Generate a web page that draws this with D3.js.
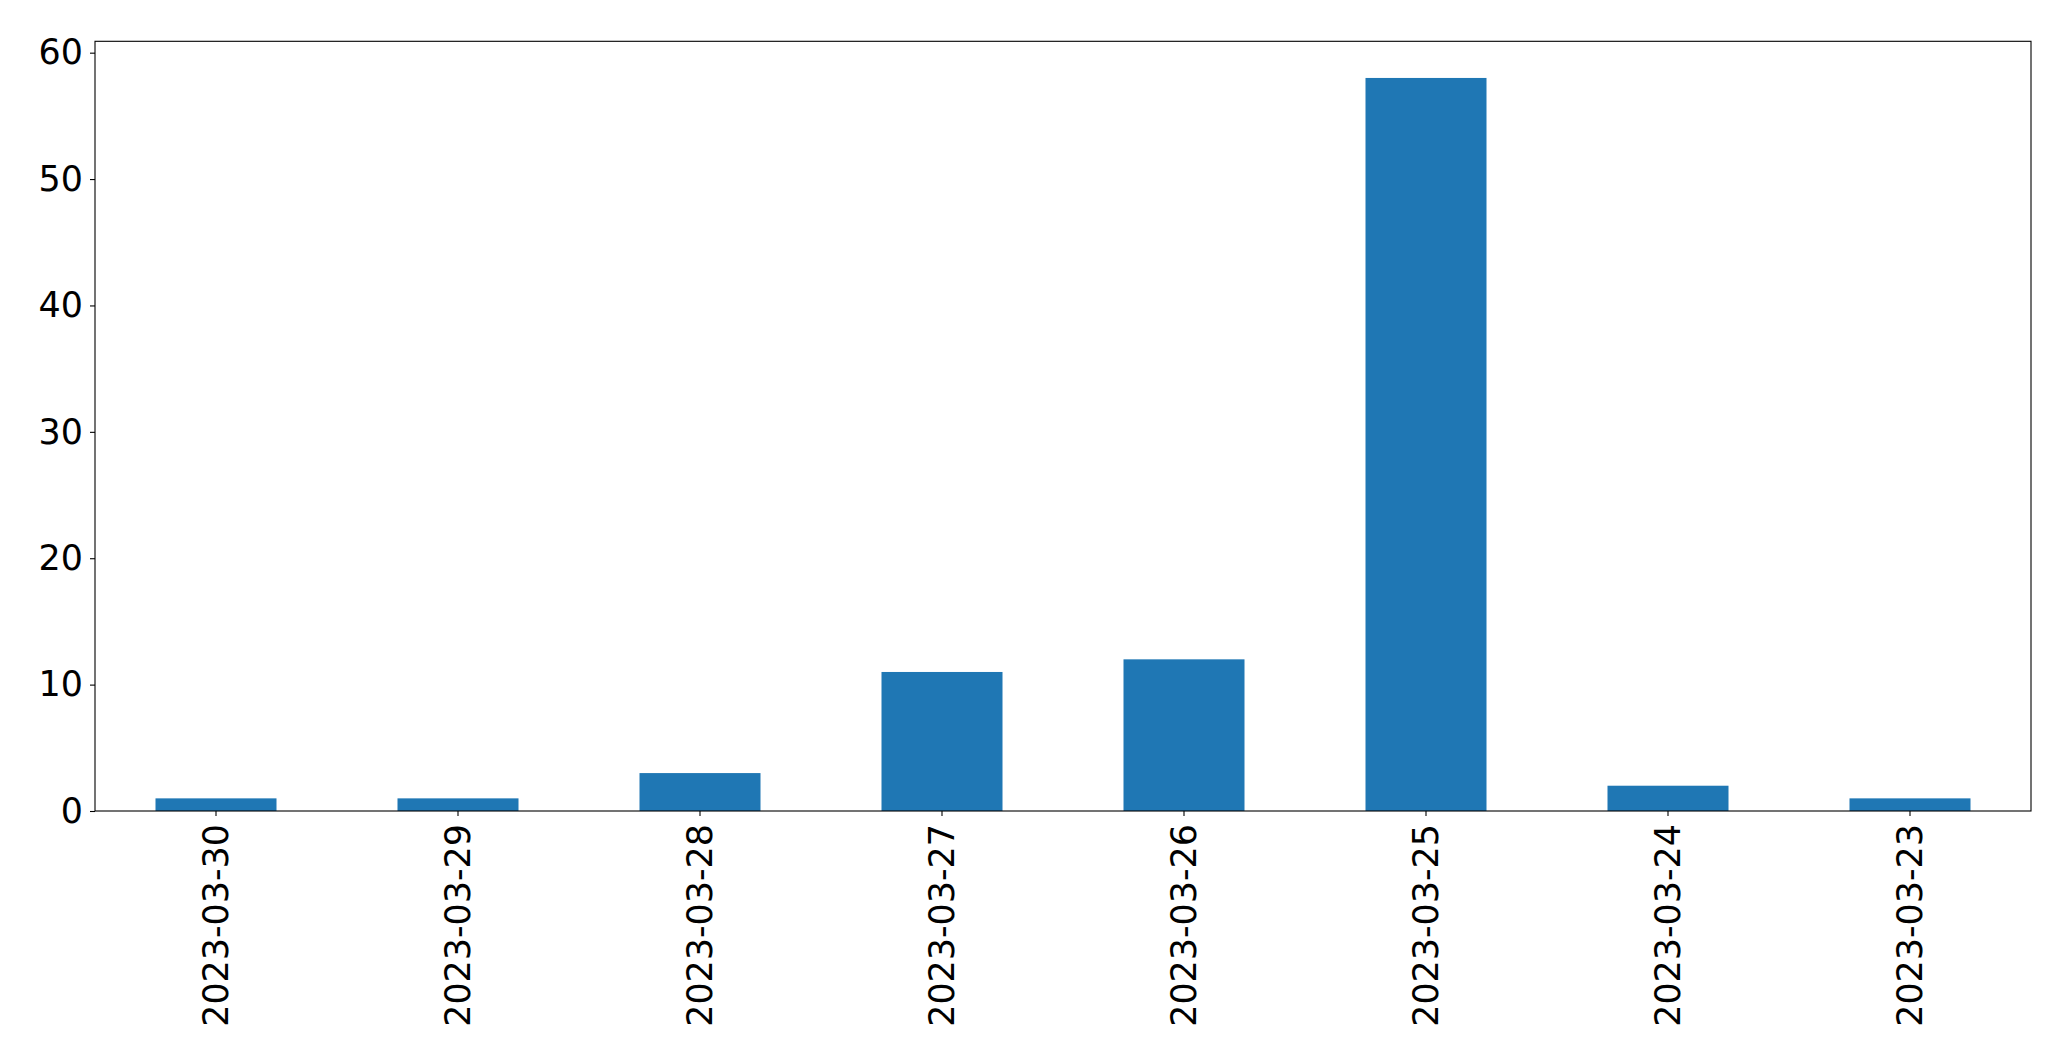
<!DOCTYPE html>
<html><head><meta charset="utf-8">
<script src="https://cdn.jsdelivr.net/npm/d3@7"></script>
<style>body{margin:0;background:#fff}svg{display:block}text{font-family:"DejaVu Sans";fill:#000}</style>
</head><body><svg id="c" width="2071" height="1063"></svg>
<script>
const categories = ["2023-03-30","2023-03-29","2023-03-28","2023-03-27","2023-03-26","2023-03-25","2023-03-24","2023-03-23"];
const values = [1,1,3,11,12,58,2,1];
const yTicks = [0,10,20,30,40,50,60];

const W = 2071, H = 1063;
const m = {left:95, right:W-2031, top:41.3, bottom:H-811};
const svg = d3.select("#c");
const iw = W - m.left - m.right, ih = H - m.top - m.bottom;
const g = svg.append("g").attr("transform", `translate(${m.left},${m.top})`);

const x = d3.scaleBand().domain(categories).range([0, iw]).paddingInner(0.5).paddingOuter(0.25);
const yMax = d3.max(values) * 1.05;
const y = d3.scaleLinear().domain([0, yMax]).range([ih, 0]);

g.selectAll("rect.bar").data(values).join("rect").attr("class","bar")
  .attr("x", (d,i) => x(categories[i]))
  .attr("width", x.bandwidth())
  .attr("y", d => y(d))
  .attr("height", d => y(0) - y(d))
  .attr("fill", "#1f77b4");

const fs = 34.9;
const yAxis = g.append("g").call(d3.axisLeft(y).tickValues(yTicks).tickSize(5).tickPadding(7).tickFormat(d3.format("d")));
yAxis.select(".domain").remove();
yAxis.selectAll("line").attr("stroke","#000").attr("stroke-width",1.1);
yAxis.selectAll("text").style("font-size", fs+"px").style("font-family","DejaVu Sans").attr("fill","#000");

const xAxis = g.append("g").attr("transform", `translate(0,${ih})`).call(d3.axisBottom(x).tickSize(5).tickPadding(0));
xAxis.select(".domain").remove();
xAxis.selectAll("line").attr("stroke","#000").attr("stroke-width",1.1);
xAxis.selectAll("text")
  .style("font-size", fs+"px").style("font-family","DejaVu Sans").attr("fill","#000")
  .attr("text-anchor","end")
  .attr("dy","0.35em")
  .attr("transform","translate(0,13) rotate(-90)")
  .attr("y",0).attr("x",0);

g.append("rect").attr("x",0).attr("y",0).attr("width",iw).attr("height",ih)
  .attr("fill","none").attr("stroke","#000").attr("stroke-width",1.1);
</script></body></html>
